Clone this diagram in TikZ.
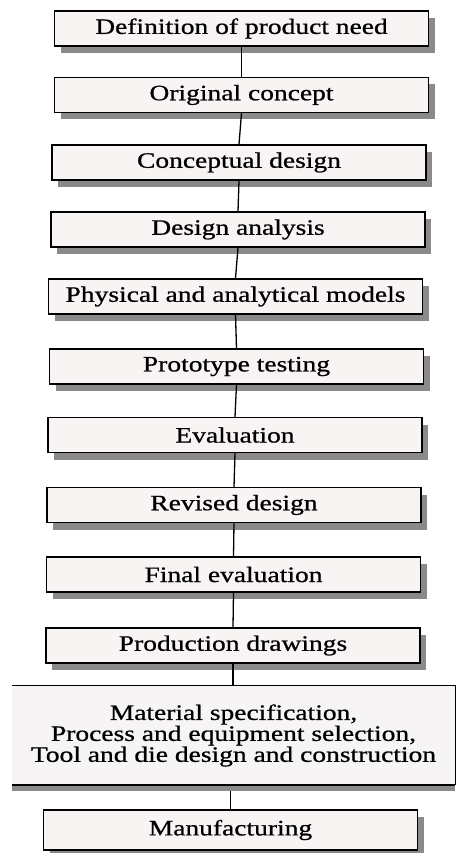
\documentclass[tikz,border=0pt]{standalone}
\usepackage{fontspec}
\setmainfont{Liberation Serif}[FakeStretch=1.25, FakeBold=0.8]
\usetikzlibrary{shadows}
\definecolor{boxfill}{HTML}{F8F4F4}
\definecolor{specfill}{HTML}{F6F4F4}
\definecolor{shadowgrey}{HTML}{8A8A8A}

\begin{document}
\begin{tikzpicture}[x=1pt, y=-1pt,
  stage/.style={draw=black, line width=1.4pt, fill=boxfill,
    minimum width=374pt, minimum height=35pt, inner sep=0pt,
    font=\fontsize{22}{24}\selectfont,
    general shadow={shadow xshift=6pt, shadow yshift=-7pt, fill=shadowgrey}},
  specbox/.style={fill=specfill, minimum width=443pt, minimum height=99pt,
    inner sep=0pt, align=center, font=\fontsize{22}{19}\selectfont},
  link/.style={line width=1.3pt}]

\useasboundingbox (0,0) rectangle (456,853);

% design stages, top to bottom
\node[stage] (need)  at (241.5, 28.5) {Definition of product need};
\node[stage] (orig)  at (241.5, 95)   {Original concept};
\node[stage] (conc)  at (239, 162.5)  {Conceptual design};
\node[stage] (anal)  at (238, 229.5)  {Design analysis};
\node[stage] (model) at (235.5, 296.5){Physical and analytical models};
\node[stage] (proto) at (236.5, 366.5){Prototype testing};
\node[stage] (eval)  at (235, 435)    {Evaluation};
\node[stage] (rev)   at (234, 505)    {Revised design};
\node[stage] (final) at (233.5, 574.5){Final evaluation};
\node[stage] (draw)  at (233, 645.5)  {Production drawings};

% wide planning panel
\node[specbox] (spec) at (233.5, 735.5)
  {Material specification,\\ Process and equipment selection,\\ Tool and die design and construction};
\draw[line width=1.3pt] (spec.north west) -- (spec.north east) -- (spec.south east);
\fill[shadowgrey] (spec.south west) rectangle ([yshift=-6pt]spec.south east);
\draw[line width=2pt] (spec.south west) -- (spec.south east);

\node[stage, minimum height=40pt] (mfg) at (230.5, 830) {Manufacturing};

% connectors
\draw[link] (need.south)  -- (orig.north);
\draw[link] (orig.south)  -- (conc.north);
\draw[link] (conc.south)  -- (anal.north);
\draw[link] (anal.south)  -- (model.north);
\draw[link] (model.south) -- (proto.north);
\draw[link] (proto.south) -- (eval.north);
\draw[link] (eval.south)  -- (rev.north);
\draw[link] (rev.south)   -- (final.north);
\draw[link] (final.south) -- (draw.north);
\draw[link] (draw.south)  -- (draw.south |- spec.north);
\draw[link] ([yshift=-6pt]spec.south -| mfg.north) -- (mfg.north);
\end{tikzpicture}
\end{document}
